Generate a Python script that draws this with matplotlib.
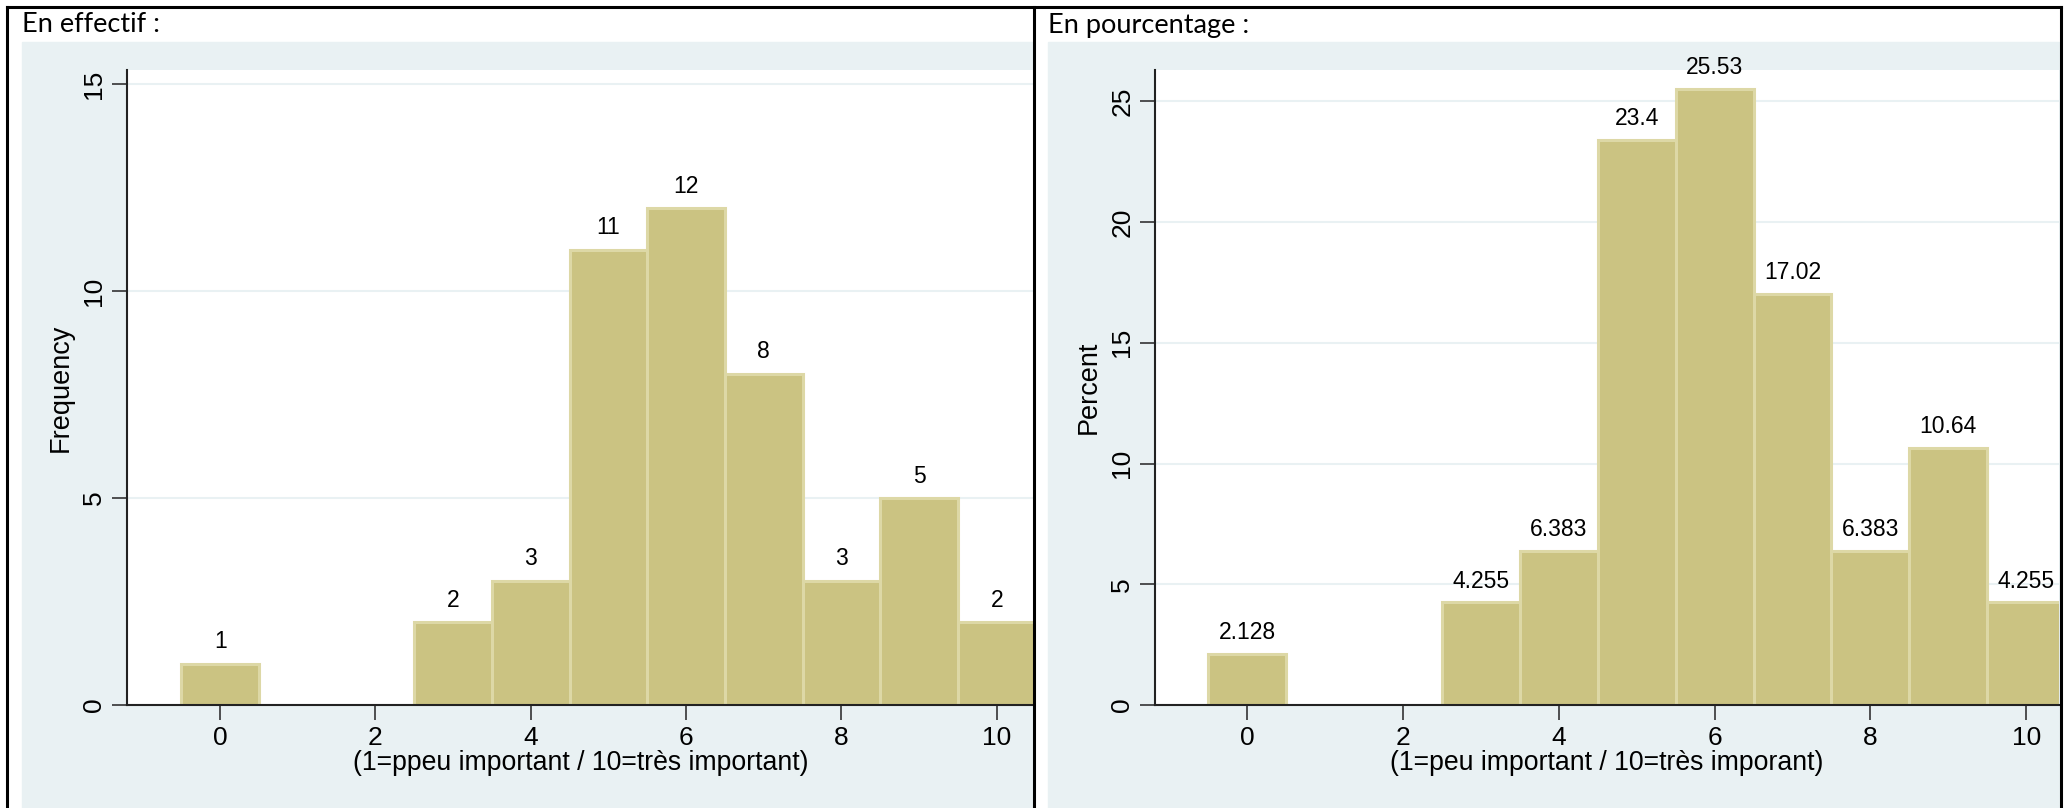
import matplotlib.pyplot as plt
from matplotlib.patches import Rectangle
from matplotlib.lines import Line2D

# Données
notes = [0, 3, 4, 5, 6, 7, 8, 9, 10]
effectifs = [1, 2, 3, 11, 12, 8, 3, 5, 2]
pourcentages = [2.128, 4.255, 6.383, 23.4, 25.53, 17.02, 6.383, 10.64, 4.255]
etiq_pct = ["2.128", "4.255", "6.383", "23.4", "25.53", "17.02", "6.383", "10.64", "4.255"]
ticks_x = [0, 2, 4, 6, 8, 10]

W, H = 2067, 808
fond = "#E9F1F3"
barre = "#CBC382"
bord = "#DDD8A6"

fig = plt.figure(figsize=(W / 100, H / 100), dpi=100)
fig.patch.set_facecolor("white")


def box(x0, y0, x1, y1):
    # coordonnées en pixels (origine en haut à gauche) -> fraction de figure
    return [x0 / W, 1 - y1 / H, (x1 - x0) / W, (y1 - y0) / H]


# fonds gris-bleu des deux graphiques
for x0, x1 in [(22, 1034), (1048, 2059)]:
    fig.patches.append(Rectangle((x0 / W, 0), (x1 - x0) / W, 1 - 42 / H,
                                 transform=fig.transFigure, color=fond, zorder=-10))

# bordures du tableau
lw = 2.2
for xs, ys in [([7, 2061], [7, 7]), ([7, 7], [7, 808]), ([2061, 2061], [7, 808]),
               ([1034, 1034], [7, 808])]:
    fig.lines.append(Line2D([x / W for x in xs], [1 - y / H for y in ys],
                            transform=fig.transFigure, color="black", lw=lw, zorder=10))

fig.text(22 / W, 1 - 25 / H, "En effectif :", fontsize=19.5, family="Lato", va="center")
fig.text(1048 / W, 1 - 25 / H, "En pourcentage :", fontsize=19.5, family="Lato", va="center")


def histo(rect, xlim, ylim, valeurs, etiquettes, yticks, ylabel, xlabel, decal):
    ax = fig.add_axes(rect)
    ax.set_zorder(1)
    ax.set_facecolor("white")
    ax.bar(notes, valeurs, width=1.0, color=barre, edgecolor=bord, linewidth=2.2, zorder=2)
    for x, v, t in zip(notes, valeurs, etiquettes):
        ax.text(x, v + decal, t, ha="center", va="bottom", fontsize=16.5,
                family="Liberation Sans", zorder=3)
    ax.set_xlim(*xlim)
    ax.set_ylim(*ylim)
    ax.set_xticks(ticks_x)
    ax.set_yticks(yticks)
    ax.set_yticklabels([str(t) for t in yticks], rotation=90, va="center",
                       family="Liberation Sans", fontsize=19)
    ax.set_xticklabels([str(t) for t in ticks_x], family="Liberation Sans", fontsize=19)
    ax.tick_params(length=11, width=1.2, color="#333333", pad=4)
    ax.grid(axis="y", color=fond, lw=1.5, zorder=1)
    ax.set_axisbelow(True)
    for s in ["top", "right"]:
        ax.spines[s].set_visible(False)
    for s in ["left", "bottom"]:
        ax.spines[s].set_color("#222222")
        ax.spines[s].set_linewidth(1.5)
    ax.set_ylabel(ylabel, family="Liberation Sans", fontsize=19.5, labelpad=6)
    ax.set_xlabel(xlabel, family="Liberation Sans", fontsize=19.2, labelpad=0)
    return ax


histo(box(127, 70, 1034, 705), (-1.2, 10.48), (0, 15.34), effectifs,
      [str(v) for v in effectifs], [0, 5, 10, 15], "Frequency",
      "(1=ppeu important / 10=très important)", 0.25)

histo(box(1155, 70, 2059, 705), (-1.18, 10.42), (0, 26.3), pourcentages,
      etiq_pct, [0, 5, 10, 15, 20, 25], "Percent",
      "(1=peu important / 10=très imporant)", 0.4)

fig.savefig("out.png", dpi=100)
